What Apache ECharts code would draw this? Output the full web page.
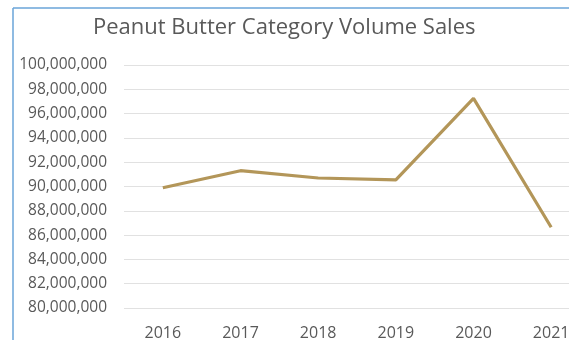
<!DOCTYPE html>
<html><head><meta charset="utf-8">
<script src="https://cdn.jsdelivr.net/npm/echarts@6/dist/echarts.min.js"></script>
<style>html,body{margin:0;padding:0;background:#fff}#c{width:569px;height:340px}</style>
</head><body><div id="c"></div>
<script>
const years = ['2016','2017','2018','2019','2020','2021'];
const volumeSales = [89900000, 91300000, 90700000, 90550000, 97250000, 86650000];
const yMin = 80000000, yMax = 100000000, yStep = 2000000;

const chart = echarts.init(document.getElementById('c'), null, {renderer:'canvas'});
chart.setOption({
  animation:false,
  backgroundColor:'#ffffff',
  title:{text:'Peanut Butter Category Volume Sales', left:88, top:12,
    textStyle:{fontFamily:'Open Sans', fontSize:22, fontWeight:'normal', color:'#595959'}},
  graphic:[
    {type:'line', shape:{x1:13,y1:8,x2:13,y2:340}, style:{stroke:'#6aa5d8', lineWidth:1.5}},
    {type:'line', shape:{x1:13,y1:8,x2:569,y2:8}, style:{stroke:'#6aa5d8', lineWidth:1.5}}
  ],
  grid:{left:124, top:65, width:466, height:243, containLabel:false, outerBoundsMode:'none'},
  xAxis:{type:'category', data:years, boundaryGap:true,
    axisLine:{show:false}, axisTick:{show:false},
    axisLabel:{margin:17, fontFamily:'Open Sans', fontSize:16, color:'#595959'}},
  yAxis:{type:'value', min:yMin, max:yMax, interval:yStep,
    axisLine:{show:false}, axisTick:{show:false},
    splitLine:{lineStyle:{color:'#e1e1e1', width:1}},
    axisLabel:{margin:17, fontFamily:'Open Sans', fontSize:15.5, color:'#595959',
      formatter:v=>v.toLocaleString('en-US')}},
  series:[{type:'line', data:volumeSales, symbol:'none',
    lineStyle:{color:'#b39659', width:3.2}}]
});
</script></body></html>
